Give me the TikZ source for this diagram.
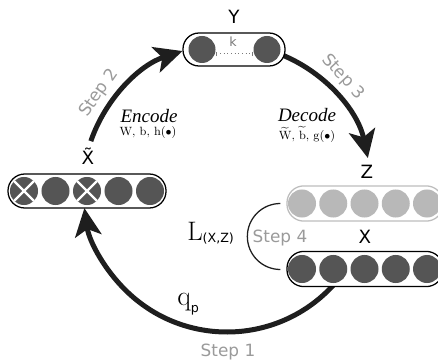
\documentclass[tikz,border=0pt]{standalone}
\usepackage{fontspec}
\newfontfamily\sansfont{DejaVu Sans}
\newfontfamily\coderfont{Liberation Serif}
\usepackage{tikz}
\usetikzlibrary{arrows.meta,positioning}
\definecolor{dotdark}{HTML}{555555}
\definecolor{dotgrey}{HTML}{B8B8B8}
\definecolor{pillgrey}{HTML}{BDBDBD}
\definecolor{stepgrey}{HTML}{9A9A9A}
\definecolor{kgrey}{HTML}{7A7A7A}
\definecolor{arcblack}{HTML}{1E1E1E}
\tikzstyle{pill} = [rectangle, rounded corners=0.42cm, draw=black, line width=0.9pt, fill=white, minimum width=3.9cm, minimum height=0.88cm, inner sep=0]
\tikzstyle{pilllight} = [pill, draw=pillgrey]
\tikzstyle{dot} = [circle, fill=dotdark, minimum size=0.7cm, inner sep=0]
\tikzstyle{dotlight} = [dot, fill=dotgrey]
\tikzstyle{cross} = [white, line width=0.06cm]
\tikzstyle{loop} = [line width=0.125cm, draw=arcblack, -{Stealth[length=0.7cm,width=0.66cm,inset=0.17cm]}]
\tikzstyle{steploop} = [line width=0.9pt, draw=arcblack]
\tikzstyle{klink} = [kgrey, line width=0.6pt, dotted]
\tikzstyle{lbl} = [font=\sansfont\fontsize{13}{13}\selectfont, inner sep=0]
\tikzstyle{steplbl} = [font=\sansfont\fontsize{12}{12}\selectfont, text=stepgrey, inner sep=0]
\tikzstyle{coder} = [font=\coderfont\fontsize{13.5}{15}\selectfont\itshape, inner sep=0]
\tikzstyle{params} = [font=\fontsize{8.5}{10}\selectfont, inner sep=0]
\begin{document}
\begin{tikzpicture}[x=0.025cm, y=0.025cm]
	\useasboundingbox (0,0) rectangle (438,361);
	\clip (0,0) rectangle (438,361);

	\coordinate (hub) at (227,173);
	\draw [loop] ([shift={(-42:144)}]hub) arc[start angle=-42, end angle=-172, radius=144];
	\draw [loop] ([shift={(161:144)}]hub) arc[start angle=161, end angle=108, radius=144];
	\draw [loop] ([shift={(70:144)}]hub) arc[start angle=70, end angle=12, radius=144];

	\node (ypill) [pill, minimum width=2.55cm, minimum height=0.825cm, rounded corners=0.4cm] at (234,311.5) {};
	\node (y1) [dot, minimum size=0.675cm] at (202,311.5) {};
	\node (y2) [dot, minimum size=0.675cm] at (267,311.5) {};
	\draw [klink, {Bar[width=3pt]}-{Bar[width=3pt]}] ([yshift=-0.11cm]y1.east) -- ([yshift=-0.11cm]y2.west);
	\node (klbl) [font=\sansfont\fontsize{9}{9}\selectfont, text=kgrey, inner sep=0] at (233,319) {k};

	\node (xtpill) [pill, minimum width=3.95cm, minimum height=0.85cm] at (87,170) {};
	\foreach \i/\x in {1/24,2/55.5,3/87,4/118.5,5/150}
		\node (xt\i) [dot] at (\x,170) {};
	\foreach \i in {1,3}
		\draw [cross] (xt\i.north east) -- (xt\i.south west) (xt\i.north west) -- (xt\i.south east);

	\node (zpill) [pilllight] at (365,157.5) {};
	\node (xpill) [pill] at (365,92) {};
	\foreach \i/\x in {1/302,2/333.25,3/364.5,4/395.75,5/427} {
		\node (z\i) [dotlight] at (\x,157.5) {};
		\node (x\i) [dot] at (\x,92) {};
	}
	\draw [steploop] ([xshift=-0.15cm]zpill.west) arc[start angle=90, end angle=270, radius=33];

	\node (ylbl) [lbl] at (234,344) {Y};
	\node (xtlbl) [lbl] at (88,205) {\~{X}};
	\node (zlbl) [lbl] at (367,189) {Z};
	\node (xlbl) [lbl] at (365,124) {X};

	\node (step1) [steplbl] at (228,9) {Step 1};
	\node (step2) [steplbl, rotate=55] at (99,268) {Step 2};
	\node (step3) [steplbl, rotate=-47] at (343,284) {Step 3};
	\node (step4) [steplbl] at (280,123) {Step 4};

	\node (enc) [coder] at (149,245) {Encode};
	\node (encp) [params] at (148,228) {W, b, h($\bullet$)};
	\node (dec) [coder] at (307,245.5) {Decode};
	\node (decp) [params] at (307,226.5) {$\widetilde{\mathrm{W}}$, $\widetilde{\mathrm{b}}$, g($\bullet$)};

	\node (loss) [anchor=base west, inner sep=0] at (187,121) {\fontsize{19}{19}\selectfont L{\sansfont\fontsize{9}{9}\selectfont\raisebox{-1.5pt}{(X,Z)}}};
	\node (qp) [anchor=base west, inner sep=0] at (177,56) {\fontsize{20}{20}\selectfont q{\sansfont\fontsize{9}{9}\selectfont\raisebox{-5pt}{p}}};

\end{tikzpicture}
\end{document}
